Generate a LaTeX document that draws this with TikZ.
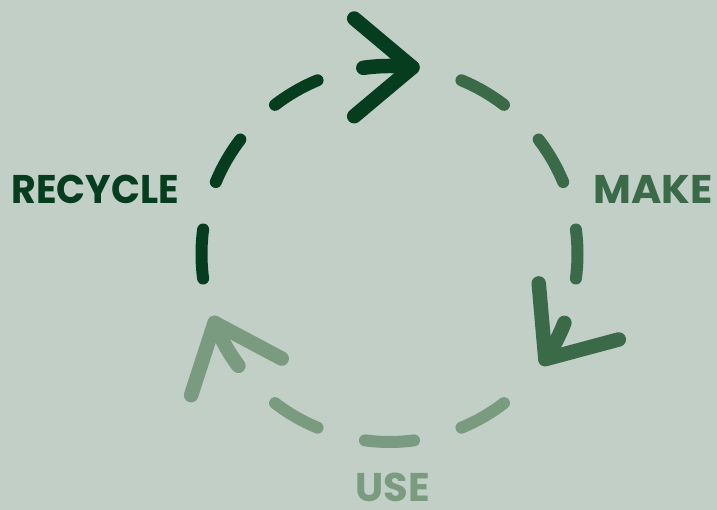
\documentclass[tikz,border=0pt]{standalone}
\usepackage{fontspec}
\setmainfont{Poppins}
\definecolor{bgsage}{HTML}{C1CFC7}
\definecolor{darkleaf}{HTML}{053D1E}
\definecolor{midleaf}{HTML}{3A6A48}
\definecolor{paleleaf}{HTML}{7A9B7F}
\begin{document}
\begin{tikzpicture}[x=1pt,y=1pt,line cap=round,line join=round,
  ringdash/.style={line width=12pt},
  ringarrow/.style={line width=14.5pt},
  stagetext/.style={font=\bfseries\fontsize{40}{40}\selectfont,inner sep=0pt}]
  \useasboundingbox (0,0) rectangle (717,510);
  \fill[bgsage] (0,0) rectangle (717,510);
  \coordinate (c) at (389.5,256);

  \foreach \a/\col in {0/midleaf,30/midleaf,60/midleaf,120/darkleaf,150/darkleaf,180/darkleaf,240/paleleaf,270/paleleaf,300/paleleaf}
    \draw[ringdash,\col] (c) ++({\a-7.5}:188) arc[start angle=\a-7.5,end angle=\a+7.5,radius=188];

  \foreach \s/\t/\d/\col in {98/83/180/darkleaf,338.5/326/55/midleaf,216.5/201.5/292/paleleaf} {
    \draw[ringarrow,\col] (c) ++(\s:188) arc[start angle=\s,end angle=\t,radius=188] coordinate (tip);
    \draw[ringarrow,\col] (tip) ++({\d+40}:76) -- (tip) -- ++({\d-40}:76);
  }

  \node[stagetext,darkleaf,xscale=0.95] (recycle) at (95,321) {RECYCLE};
  \node[stagetext,midleaf,xscale=1.03] (make) at (653,321) {MAKE};
  \node[stagetext,paleleaf] (use) at (393,23) {USE};
\end{tikzpicture}
\end{document}
